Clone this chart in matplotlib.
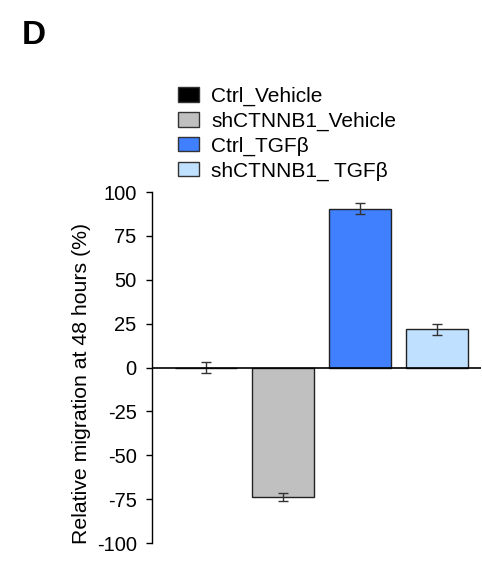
import matplotlib
matplotlib.use('Agg')
import matplotlib.pyplot as plt
from matplotlib.patches import Patch

plt.rcParams['font.family'] = ['Liberation Sans', 'DejaVu Sans']

groups = ['Ctrl_Vehicle', 'shCTNNB1_Vehicle', 'Ctrl_TGFβ', 'shCTNNB1_ TGFβ']
values = [0.0, -74.0, 90.6, 21.7]
errors = [3.2, 2.3, 3.3, 3.3]
colors = ['#000000', '#c0c0c0', '#4080ff', '#c0e0ff']
yticks = [100, 75, 50, 25, 0, -25, -50, -75, -100]

fig = plt.figure(figsize=(4.82, 5.64), dpi=100)
ax = fig.add_axes([0.3154, 0.0372, 0.6826, 0.6223])

x = range(len(values))
ax.bar(x, values, width=0.805, color=colors, edgecolor='#222222', linewidth=1.0)
ax.errorbar(x, values, yerr=errors, fmt='none', ecolor='#333333',
            elinewidth=1.0, capsize=3.5, capthick=1.0)
ax.axhline(0, color='black', linewidth=1.2)

ax.set_xlim(-0.695, 3.578)
ax.set_ylim(-100, 100)
ax.set_yticks(yticks)
ax.set_yticklabels([str(t) for t in yticks], fontsize=14.5)
ax.set_xticks([])
for s in ['top', 'right', 'bottom']:
    ax.spines[s].set_visible(False)
ax.spines['left'].set_linewidth(1.0)
ax.tick_params(axis='y', direction='out', length=4, width=1.0, pad=7)
ax.set_ylabel('Relative migration at 48 hours (%)', fontsize=15.3)
ax.yaxis.set_label_coords(-0.186, 0.455)

handles = [Patch(facecolor=c, edgecolor='#333333', linewidth=1.0) for c in colors]
fig.legend(handles, groups, loc='upper left', bbox_to_anchor=(0.369, 0.846),
           frameon=False, fontsize=15, handlelength=1.0, handleheight=0.68,
           handletextpad=0.6, labelspacing=0.27, borderpad=0, borderaxespad=0)

fig.text(0.045, 0.965, 'D', fontsize=24, fontweight='bold', va='top', ha='left')

fig.savefig('out.png', dpi=100)
